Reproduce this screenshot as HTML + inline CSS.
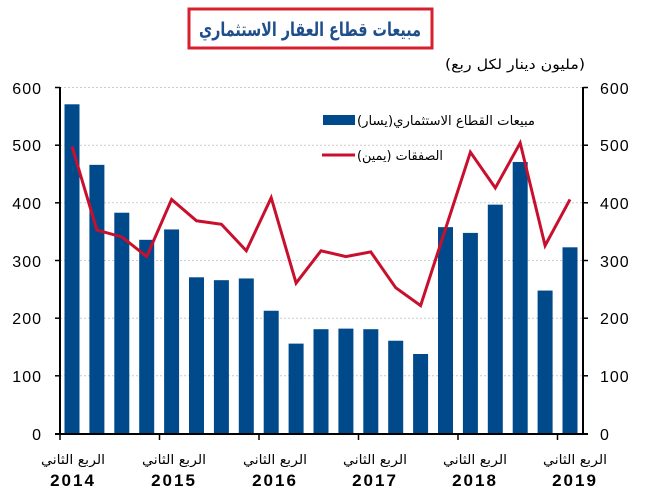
<!DOCTYPE html>
<html><head><meta charset="utf-8"><style>
body{margin:0;background:#fff;}
svg{display:block;font-family:"Liberation Sans","Noto Sans CJK SC",sans-serif;}
</style></head><body>
<svg width="645" height="495" viewBox="0 0 645 495" xmlns="http://www.w3.org/2000/svg">
<rect x="189" y="9" width="243" height="39" fill="#fff" stroke="#d7202e" stroke-width="3"/>
<text x="310" y="36" text-anchor="middle" font-size="19" font-weight="bold" fill="#1f4e8c" font-family="'DejaVu Sans',sans-serif" textLength="222" lengthAdjust="spacingAndGlyphs">مبيعات قطاع العقار الاستثماري</text>
<text x="585" y="69" text-anchor="end" font-size="14" fill="#000" font-family="'DejaVu Sans',sans-serif" textLength="140" lengthAdjust="spacingAndGlyphs">(مليون دينار لكل ربع)</text>
<g stroke="#ccc" stroke-dasharray="2,2" stroke-width="1">
<line x1="60" x2="583" y1="87.5" y2="87.5"/><line x1="60" x2="583" y1="145.2" y2="145.2"/><line x1="60" x2="583" y1="202.8" y2="202.8"/><line x1="60" x2="583" y1="260.5" y2="260.5"/><line x1="60" x2="583" y1="318.2" y2="318.2"/><line x1="60" x2="583" y1="375.8" y2="375.8"/>
</g>
<g id="bars" fill="#004a8c"></g>
<polyline id="ln" fill="none" stroke="#c8102e" stroke-width="3" stroke-linejoin="miter"/>
<g stroke="#000" stroke-width="2" fill="none">
<line x1="60" y1="87" x2="60" y2="434"/><line x1="583" y1="87" x2="583" y2="434"/>
<line x1="55" y1="434" x2="588" y2="434"/>
</g>
<g stroke="#000" stroke-width="1.5">
<line x1="55" x2="60" y1="87.5" y2="87.5"/><line x1="55" x2="60" y1="145.2" y2="145.2"/><line x1="55" x2="60" y1="202.8" y2="202.8"/><line x1="55" x2="60" y1="260.5" y2="260.5"/><line x1="55" x2="60" y1="318.2" y2="318.2"/><line x1="55" x2="60" y1="375.8" y2="375.8"/>
<line x1="583" x2="588" y1="87.5" y2="87.5"/><line x1="583" x2="588" y1="145.2" y2="145.2"/><line x1="583" x2="588" y1="202.8" y2="202.8"/><line x1="583" x2="588" y1="260.5" y2="260.5"/><line x1="583" x2="588" y1="318.2" y2="318.2"/><line x1="583" x2="588" y1="375.8" y2="375.8"/>
<line x1="60" x2="60" y1="434" y2="440"/><line x1="159.5" x2="159.5" y1="434" y2="440"/><line x1="259" x2="259" y1="434" y2="440"/><line x1="358.5" x2="358.5" y1="434" y2="440"/><line x1="458" x2="458" y1="434" y2="440"/><line x1="557.5" x2="557.5" y1="434" y2="440"/>
</g>
<g font-size="16" fill="#000" text-anchor="end" letter-spacing="1">
<text x="42" y="94">600</text><text x="42" y="151">500</text><text x="42" y="209">400</text><text x="42" y="267">300</text><text x="42" y="324">200</text><text x="42" y="382">100</text><text x="42" y="440">0</text>
</g>
<g font-size="16" fill="#000" text-anchor="start" letter-spacing="1">
<text x="600" y="94">600</text><text x="600" y="151">500</text><text x="600" y="209">400</text><text x="600" y="267">300</text><text x="600" y="324">200</text><text x="600" y="382">100</text><text x="600" y="440">0</text>
</g>
<g font-size="13" fill="#000" text-anchor="middle" font-family="'DejaVu Sans',sans-serif">
<text x="73" y="464" textLength="64" lengthAdjust="spacingAndGlyphs">الربع الثاني</text><text x="174" y="464" textLength="64" lengthAdjust="spacingAndGlyphs">الربع الثاني</text><text x="275" y="464" textLength="64" lengthAdjust="spacingAndGlyphs">الربع الثاني</text><text x="375" y="464" textLength="64" lengthAdjust="spacingAndGlyphs">الربع الثاني</text><text x="475" y="464" textLength="64" lengthAdjust="spacingAndGlyphs">الربع الثاني</text><text x="575" y="464" textLength="64" lengthAdjust="spacingAndGlyphs">الربع الثاني</text>
</g>
<g font-size="17" font-weight="bold" fill="#000" text-anchor="middle" letter-spacing="2">
<text x="73" y="486">2014</text><text x="174" y="486">2015</text><text x="275" y="486">2016</text><text x="375" y="486">2017</text><text x="475" y="486">2018</text><text x="575" y="486">2019</text>
</g>
<rect x="323" y="115" width="32" height="10" fill="#004a8c"/>
<text x="357" y="125" font-size="13" fill="#000" font-family="'DejaVu Sans',sans-serif" textLength="178" lengthAdjust="spacingAndGlyphs">مبيعات القطاع الاستثماري(يسار)</text>
<line x1="322" y1="155" x2="355" y2="155" stroke="#c8102e" stroke-width="3"/>
<text x="357" y="160" font-size="13" fill="#000" font-family="'DejaVu Sans',sans-serif" textLength="86" lengthAdjust="spacingAndGlyphs">الصفقات (يمين)</text>
<script>
var b=[570,465,382,335,353,270,265,268,212,155,180,181,180,160,137,357,347,396,470,247,322];
var l=[497,352,340,306,405,368,362,316,408,260,316,306,314,252,221,354,487,425,503,325,405];
var g=document.getElementById('bars'),p=[],s=346/600;
for(var i=0;i<21;i++){var cx=72+24.9*i;var h=b[i]*s;
var r=document.createElementNS('http://www.w3.org/2000/svg','rect');
r.setAttribute('x',cx-7.5);r.setAttribute('y',433-h);r.setAttribute('width',15);r.setAttribute('height',h);g.appendChild(r);
p.push(cx+','+(433-l[i]*s));}
document.getElementById('ln').setAttribute('points',p.join(' '));
</script>
</svg>
</body></html>
